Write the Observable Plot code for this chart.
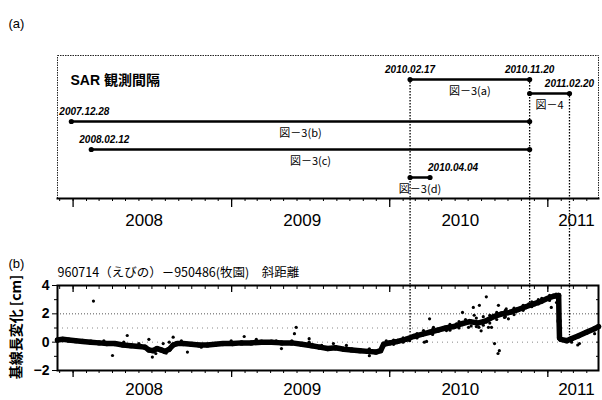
<!DOCTYPE html>
<html><head><meta charset="utf-8">
<script src="https://cdn.jsdelivr.net/npm/d3@7"></script>
<script src="https://cdn.jsdelivr.net/npm/@observablehq/plot@0.6"></script>
<style>
body{margin:0;background:#fff;}
#wrap{position:relative;width:602px;height:400px;overflow:hidden;background:#fff;}
#wrap svg{display:block;}
#ylab{position:absolute;left:15px;top:327px;transform:translate(-50%,-50%) rotate(-90deg);white-space:nowrap;
  font-family:'Noto Sans CJK JP','Liberation Sans',sans-serif;font-size:14px;font-weight:bold;color:#000;line-height:1;}
</style></head><body><div id="wrap"><div id="ylab"></div></div>
<script>
// ---------- panel (a): SAR observation intervals ----------
const intervalFigs   = ["図－3(a)", "図－4", "図－3(b)", "図－3(c)", "図－3(d)"];
const intervalRows   = ["3(a)", "4", "3(b)", "3(c)", "3(d)"];
const intervalStarts = ["2010-02-17", "2010-11-20", "2007-12-28", "2008-02-12", "2010-02-17"];
const intervalEnds   = ["2010-11-20", "2011-02-20", "2010-11-20", "2010-11-20", "2010-04-04"];
const dateLabelTexts = ["2010.02.17", "2010.11.20", "2011.02.20", "2007.12.28", "2008.02.12", "2010.04.04"];
const dateLabelRows  = ["3(a)", "3(a)", "4", "3(b)", "3(c)", "3(d)"];
const verticalDates  = ["2010-02-17", "2010-11-20", "2011-02-20"];
const verticalRows   = ["3(a)", "3(a)", "4"];
const verticalEndCm  = [0.5, 2.75, 0.45];

// ---------- axis ticks ----------
const yearTicks      = ["2008-01-01", "2009-01-01", "2010-01-01", "2011-01-01"];
const yearLabelDates = ["2008-06-13", "2009-06-13", "2010-06-13", "2011-03-08"];
const yMajor = [-2, 0, 2, 4];
const yMinor = [-1, 1, 3];
const yAxisTitle = "基線長変化 [cm]";

// ---------- panel (b): baseline change (cm) ----------
const gnssDate = ["2007-11-26","2007-12-08","2007-12-22","2008-01-07","2008-01-23","2008-02-11","2008-03-01","2008-03-19","2008-04-06","2008-04-25","2008-05-13","2008-06-01","2008-06-15","2008-06-24","2008-07-03","2008-07-13","2008-07-22","2008-07-31","2008-08-10","2008-08-19","2008-08-28","2008-09-11","2008-09-30","2008-10-18","2008-11-06","2008-11-24","2008-12-12","2009-01-03","2009-01-24","2009-02-16","2009-03-11","2009-04-03","2009-04-26","2009-05-20","2009-06-12","2009-07-05","2009-07-23","2009-08-11","2009-08-29","2009-09-17","2009-10-05","2009-10-24","2009-11-11","2009-11-30","2009-12-11","2009-12-18","2010-01-01","2010-01-19","2010-02-07","2010-02-25","2010-03-16","2010-04-03","2010-04-22","2010-05-10","2010-05-29","2010-06-16","2010-07-05","2010-07-23","2010-08-11","2010-08-29","2010-09-17","2010-10-05","2010-10-24","2010-11-11","2010-11-30","2010-12-18","2011-01-01","2011-01-15","2011-01-26","2011-01-27","2011-01-28","2011-01-31","2011-02-14","2011-02-25","2011-03-13","2011-03-31","2011-04-19","2011-04-28"];
const gnssCm = [0.15,0.2,0.15,0.1,0.05,0.0,-0.05,-0.1,-0.1,-0.2,-0.25,-0.3,-0.35,-0.55,-0.6,-0.45,-0.55,-0.65,-0.5,-0.2,-0.1,-0.1,-0.15,-0.2,-0.2,-0.15,-0.1,-0.1,-0.05,-0.05,0.0,0.0,-0.05,-0.05,-0.15,-0.25,-0.35,-0.45,-0.4,-0.5,-0.55,-0.6,-0.65,-0.7,-0.6,-0.15,-0.05,0.05,0.2,0.4,0.55,0.7,0.85,1.0,1.1,1.3,1.45,1.35,1.5,1.8,2.0,2.1,2.3,2.5,2.7,2.9,3.1,3.25,3.3,1.5,0.3,0.2,0.1,0.25,0.45,0.7,0.95,1.1];

const scatterDate = ["2008-02-17","2008-05-05","2008-04-01","2008-07-02","2008-06-24","2008-08-19","2008-09-21","2009-01-30","2009-05-30","2009-05-26","2009-06-29","2009-04-26","2010-04-03","2010-03-22","2010-03-27","2010-06-18","2009-11-15","2010-08-12","2010-07-13","2010-07-27","2010-09-09","2010-08-31","2010-09-11","2010-09-08","2010-09-27","2010-07-31","2010-08-24","2010-07-26","2011-01-09","2011-01-27","2011-01-28","2011-01-28","2011-03-15","2011-03-11",
  "2008-03-12","2008-04-27","2008-06-01","2008-07-10","2008-08-03","2008-07-27","2008-08-10","2008-09-07","2008-10-23","2008-12-31","2009-02-27","2009-04-14","2009-05-20","2009-06-29","2009-07-28","2009-08-24","2009-09-23","2009-11-15","2009-12-24","2010-02-16","2010-03-20","2010-04-12","2010-05-12","2010-06-04","2010-07-02","2010-08-17","2010-07-15","2010-09-23","2010-10-02","2010-11-18","2010-12-18","2011-01-21","2011-02-25","2011-03-26","2011-04-19","2010-06-25","2010-07-08",
  "2010-01-10","2010-01-10","2010-02-01","2010-02-01","2010-03-05","2010-03-05","2010-04-10","2010-04-10","2010-05-20","2010-05-20","2010-06-10","2010-06-10","2010-07-20","2010-07-20","2010-08-05","2010-08-05","2010-08-20","2010-08-20","2010-09-05","2010-09-05","2010-09-25","2010-09-25","2010-10-15","2010-10-15","2010-11-05","2010-11-05","2010-11-25","2010-11-25","2010-12-10","2010-12-10","2011-01-05","2011-01-05","2011-01-20"];
const scatterCm = [2.9,0.47,-0.94,-1.05,0.2,0.35,-0.7,0.4,1.05,0.6,0.25,-0.45,1.65,0.0,0.05,2.1,-0.95,3.2,2.45,2.6,2.6,-0.1,-0.6,-0.8,2.35,0.8,1.05,1.05,2.45,2.1,1.5,1.05,-0.1,-0.2,
  0.1,0.0,-0.1,-0.8,-0.77,-0.1,0.0,0.1,-0.35,0.1,0.2,0.1,0.1,0.0,-0.23,-0.1,-0.23,-0.47,0.1,0.1,0.82,1.05,0.82,1.3,1.05,1.05,1.9,1.75,1.65,2.7,3.1,2.8,0.0,0.6,0.6,1.6,1.15,
  0.15,-0.15,0.3,0.0,0.6,0.3,0.9,0.55,1.25,0.85,1.45,1.0,1.7,1.1,1.8,1.2,1.35,1.9,2.1,1.6,2.25,1.8,2.4,1.95,2.6,2.25,2.85,2.5,3.0,2.7,3.3,2.95,3.4];

// ---------- build tables ----------
const parse = d3.utcParse("%Y-%m-%d");
const parseDot = d3.utcParse("%Y.%m.%d");
const xDomain = [parse("2007-11-26"), parse("2011-04-28")];
const months = d3.utcMonth.range(parse("2007-12-01"), parse("2011-05-01"));
const years = yearTicks.map(parse);
const yearLabels = yearLabelDates.map(parse);
const intervals = intervalRows.map((r, i) => {
  const s = parse(intervalStarts[i]), e = parse(intervalEnds[i]);
  return {row: r, fig: intervalFigs[i], start: s, end: e, mid: new Date((+s + +e) / 2)};
});
const dateLabels = dateLabelTexts.map((t, i) => ({text: t, date: parseDot(t), row: dateLabelRows[i]}));
const verticals = verticalDates.map((d, i) => ({date: parse(d), row: verticalRows[i], end: verticalEndCm[i]}));
const series = gnssDate.map((d, i) => ({date: parse(d), cm: gnssCm[i]}));
const scatter = scatterDate.map((d, i) => ({date: parse(d), cm: scatterCm[i]}));
const laneOrder = ["3(a)", "4", "s1", "3(b)", "s2", "3(c)", "s3", "3(d)", "s4", "s5"];

const font = "'Liberation Sans', Arial, 'Noto Sans CJK JP', sans-serif";
const cjk = "'Noto Sans CJK JP', 'Liberation Sans', sans-serif";
const blank = () => "";
const dateStyle = {text: "text", dy: -10, fontSize: 10, fontWeight: "bold", fontStyle: "italic"};

const plotA = Plot.plot({
  width: 602, height: 235,
  marginLeft: 57, marginRight: 4, marginTop: 55, marginBottom: 37,
  style: {fontFamily: font, fontSize: "12px", background: "transparent", overflow: "visible", color: "#000"},
  x: {type: "utc", domain: xDomain},
  y: {type: "point", domain: laneOrder, range: [79, 205], padding: 0, axis: null},
  marks: [
    Plot.frame({stroke: "#222", strokeDasharray: "1.5,1"}),
    Plot.frame({anchor: "bottom", stroke: "#000", strokeWidth: 2}),
    Plot.axisX({ticks: months, tickSize: 3, tickFormat: blank}),
    Plot.axisX({ticks: years, tickSize: 9, tickFormat: blank, strokeWidth: 1.3}),
    Plot.axisX({ticks: yearLabels, tickSize: 0, tickPadding: 15, fontSize: 17, tickFormat: d => String(d.getUTCFullYear())}),
    Plot.ruleX(verticals, {x: "date", y1: "row", y2: () => "s5", stroke: "#000", strokeWidth: 1.3, strokeDasharray: "1.5,1.5", insetBottom: -30}),
    Plot.ruleY(intervals, {x1: "start", x2: "end", y: "row", stroke: "#000", strokeWidth: 2.5}),
    Plot.dot(intervals, {x: "start", y: "row", r: 2.6, fill: "#000"}),
    Plot.dot(intervals, {x: "end", y: "row", r: 2.6, fill: "#000"}),
    Plot.text(dateLabels.filter((d, i) => i < 3), {x: "date", y: "row", ...dateStyle}),
    Plot.text(dateLabels.filter((d, i) => i >= 3 && i < 5), {x: "date", y: "row", ...dateStyle, dx: -12, textAnchor: "start"}),
    Plot.text(dateLabels.filter((d, i) => i === 5), {x: "date", y: "row", ...dateStyle, dx: -2, textAnchor: "start"}),
    Plot.text(intervals, {x: "mid", y: "row", text: "fig", dy: 12, fontSize: 11, fontFamily: cjk}),
    Plot.text(["SAR 観測間隔"], {frameAnchor: "top-left", dx: 13, dy: 20, textAnchor: "start", fontSize: 14, fontWeight: "bold"}),
    Plot.text(["(a)"], {frameAnchor: "top-left", dx: -49, dy: -37, textAnchor: "start", fontSize: 13})
  ]
});

const plotB = Plot.plot({
  width: 602, height: 165,
  marginLeft: 57, marginRight: 4, marginTop: 50, marginBottom: 30,
  style: {fontFamily: font, fontSize: "12px", background: "transparent", overflow: "visible", color: "#000"},
  x: {type: "utc", domain: xDomain},
  y: {domain: [-2, 4]},
  marks: [
    Plot.ruleY([2], {stroke: "#555", strokeDasharray: "1,2"}),
    Plot.ruleY([0, 1], {stroke: "#888", strokeDasharray: "1,4"}),
    Plot.ruleX(verticals, {x: "date", y1: () => 4, y2: "end", stroke: "#000", strokeWidth: 1.3, strokeDasharray: "1.5,1.5", insetTop: -50}),
    Plot.line(series, {x: "date", y: "cm", stroke: "#000", strokeWidth: 5.5}),
    Plot.dot(series, {x: "date", y: "cm", r: 2.6, fill: "#000"}),
    Plot.dot(scatter, {x: "date", y: "cm", r: 1.6, fill: "#000"}),
    Plot.frame({stroke: "#000", strokeWidth: 2}),
    Plot.axisY({ticks: yMajor, tickSize: 5, tickPadding: 3, fontSize: 14, fontWeight: "bold", tickFormat: d3.format("d")}),
    Plot.axisY({ticks: yMinor, tickSize: 3, tickFormat: blank}),
    Plot.axisY({anchor: "right", ticks: yMajor.concat(yMinor), tickSize: -3, tickFormat: blank}),
    Plot.axisX({ticks: months, tickSize: 3, tickFormat: blank}),
    Plot.axisX({ticks: years, tickSize: 7, tickFormat: blank, strokeWidth: 1.3}),
    Plot.axisX({anchor: "top", ticks: months, tickSize: -3, tickFormat: blank}),
    Plot.axisX({anchor: "top", ticks: years, tickSize: -6, tickFormat: blank, strokeWidth: 1.3}),
    Plot.axisX({ticks: yearLabels, tickSize: 0, tickPadding: 12, fontSize: 17, tickFormat: d => String(d.getUTCFullYear())}),
    Plot.text(["960714（えびの）－950486(牧園)　斜距離"], {frameAnchor: "top-left", dy: -17, textAnchor: "start", fontSize: 12.5, fontFamily: cjk}),
    Plot.text(["(b)"], {frameAnchor: "top-left", dx: -49, dy: -27, textAnchor: "start", fontSize: 13})
  ]
});

const wrap = document.getElementById("wrap");
wrap.appendChild(plotA);
wrap.appendChild(plotB);
document.getElementById("ylab").textContent = yAxisTitle;
</script></body></html>
